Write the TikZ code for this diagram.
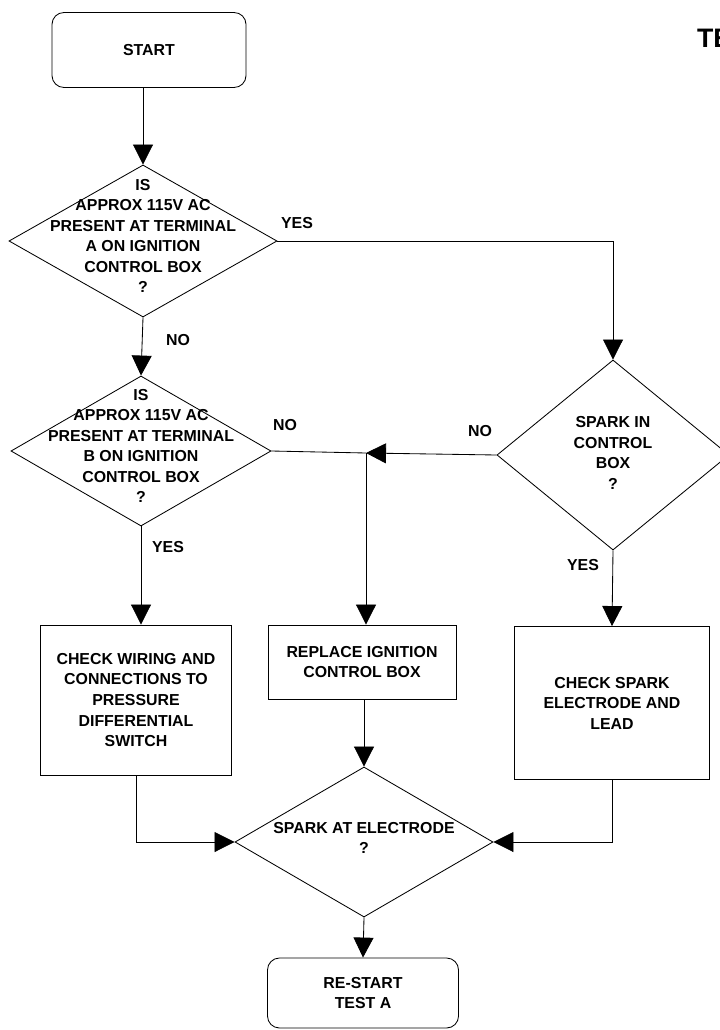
\documentclass[tikz,border=0pt]{standalone}
\usepackage{fontspec}
\setmainfont{Liberation Sans}
\usetikzlibrary{positioning,arrows.meta,shapes.geometric}

\begin{document}
\begin{tikzpicture}[x=0.025cm,y=-0.025cm,line width=0.6pt,
  txt/.style={align=center,font=\fontsize{11.3}{14.6}\selectfont\bfseries},
  lbl/.style={font=\fontsize{11.3}{14.6}\selectfont\bfseries},
  dia/.style={draw,diamond,inner sep=0pt},
  box/.style={draw,rectangle,txt,inner sep=0pt},
  rbox/.style={draw,rectangle,rounded corners=0.3cm,txt,inner sep=0pt},
  arr/.style={-{Triangle[length=0.5cm,width=0.5cm]}}]
\clip (0,0) rectangle (720,1030);
\node[rbox,minimum width=4.85cm,minimum height=1.875cm] (start) at (149,50) {START};
\node[font=\fontsize{19}{22}\selectfont\bfseries,anchor=base west] (title) at (692,48) {TE};
\node[dia,minimum width=6.7cm,minimum height=3.8cm] (d1) at (143,241) {};
\node[txt] (d1t) at (143,236) {IS\\APPROX 115V AC\\PRESENT AT TERMINAL\\A ON IGNITION\\CONTROL BOX\\?};
\node[dia,minimum width=6.5cm,minimum height=3.75cm] (d2) at (141,451) {};
\node[txt] (d2t) at (141,446) {IS\\APPROX 115V AC\\PRESENT AT TERMINAL\\B ON IGNITION\\CONTROL BOX\\?};
\node[dia,minimum width=5.8cm,minimum height=4.75cm] (d3) at (613,455) {};
\node[txt] (d3t) at (613,453) {SPARK IN\\CONTROL\\BOX\\?};
\node[box,minimum width=4.775cm,minimum height=3.75cm] (wire) at (136,700) {CHECK WIRING AND\\CONNECTIONS TO\\PRESSURE\\DIFFERENTIAL\\SWITCH};
\node[box,minimum width=4.7cm,minimum height=1.85cm] (rep) at (362,662) {REPLACE IGNITION\\CONTROL BOX};
\node[box,minimum width=4.875cm,minimum height=3.825cm] (spark) at (612,703) {CHECK SPARK\\ELECTRODE AND\\LEAD};
\node[dia,minimum width=6.45cm,minimum height=3.75cm] (d4) at (364,842) {};
\node[txt] (d4t) at (364,838) {SPARK AT ELECTRODE\\?};
\node[rbox,minimum width=4.775cm,minimum height=1.75cm] (restart) at (363,993) {RE-START\\TEST A};
\coordinate (jn) at (366,453);
\draw[arr] (start.south -| d1.north) -- (d1.north);
\draw[arr] (d1.east) -| (d3.north);
\draw[arr] (d1.south) -- (d2.north);
\draw (d2.east) -- (jn);
\draw[arr] (d3.west) -- (jn);
\draw[arr] (jn) -- (jn |- rep.north);
\draw[arr] (d2.south) -- (d2.south |- wire.north);
\draw[arr] (d3.south) -- (spark.north);
\draw[arr] (wire.south) |- (d4.west);
\draw[arr] (rep.south -| d4.north) -- (d4.north);
\draw[arr] (spark.south) |- (d4.east);
\draw[arr] (d4.south) -- (restart.north);
\node[lbl] (yes1) at (297,223) {YES};
\node[lbl] (no1) at (178,340) {NO};
\node[lbl] (no2) at (285,425) {NO};
\node[lbl] (yes2) at (168,547) {YES};
\node[lbl] (no3) at (480,431) {NO};
\node[lbl] (yes3) at (583,565) {YES};
\end{tikzpicture}
\end{document}
